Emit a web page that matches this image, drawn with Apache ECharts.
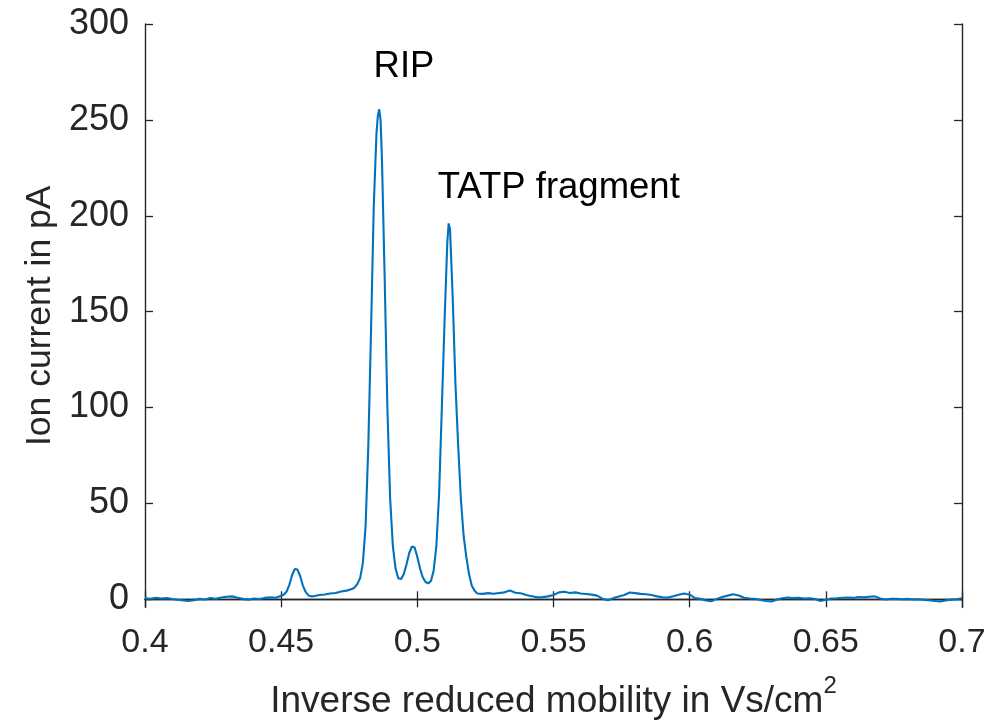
<!DOCTYPE html>
<html>
<head>
<meta charset="utf-8">
<title>Ion mobility spectrum</title>
<script src="https://cdn.jsdelivr.net/npm/echarts@6/dist/echarts.min.js"></script>
<style>
  html, body { margin: 0; padding: 0; background: #ffffff; }
  #chart { width: 1007px; height: 725px; }
</style>
</head>
<body>
<div id="chart"></div>
<script>
// Inverse reduced mobility (Vs/cm^2) of each sample in the spectrum
const mobility = [
  0.400, 0.402, 0.404, 0.406, 0.408, 0.410, 0.412, 0.414, 0.416, 0.418,
  0.420, 0.422, 0.424, 0.426, 0.428, 0.430, 0.432, 0.434, 0.436, 0.438,
  0.440, 0.442, 0.444, 0.446, 0.448, 0.450, 0.451, 0.452, 0.453, 0.454,
  0.455, 0.456, 0.457, 0.458, 0.459, 0.460, 0.461, 0.462, 0.464, 0.466,
  0.468, 0.470, 0.472, 0.474, 0.476, 0.477, 0.478, 0.479, 0.480, 0.481,
  0.482, 0.483, 0.484, 0.485, 0.4855, 0.486, 0.4865, 0.487, 0.488, 0.489,
  0.490, 0.491, 0.492, 0.493, 0.494, 0.495, 0.496, 0.497, 0.498, 0.499,
  0.500, 0.501, 0.502, 0.503, 0.504, 0.505, 0.506, 0.507, 0.508, 0.509,
  0.510, 0.511, 0.5115, 0.512, 0.513, 0.514, 0.515, 0.516, 0.517, 0.518,
  0.519, 0.520, 0.521, 0.522, 0.524, 0.526, 0.528, 0.530, 0.532, 0.534,
  0.536, 0.538, 0.540, 0.542, 0.544, 0.546, 0.548, 0.550, 0.552, 0.554,
  0.556, 0.558, 0.560, 0.562, 0.564, 0.566, 0.568, 0.570, 0.572, 0.574,
  0.576, 0.578, 0.580, 0.582, 0.584, 0.586, 0.588, 0.590, 0.592, 0.594,
  0.596, 0.598, 0.600, 0.602, 0.604, 0.606, 0.608, 0.610, 0.612, 0.614,
  0.616, 0.618, 0.620, 0.622, 0.624, 0.626, 0.628, 0.630, 0.632, 0.634,
  0.636, 0.638, 0.640, 0.642, 0.644, 0.646, 0.648, 0.650, 0.652, 0.654,
  0.656, 0.658, 0.660, 0.662, 0.664, 0.666, 0.668, 0.670, 0.672, 0.674,
  0.676, 0.678, 0.680, 0.682, 0.684, 0.686, 0.688, 0.690, 0.692, 0.694,
  0.696, 0.698, 0.700
];

// Measured ion current (pA) at each mobility value
const current = [
  0.5, 0.3, 0.7, 0.4, 0.6, 0.1, -0.3, -0.6, -0.9, -0.5,
  0.2, -0.1, 0.6, 0.3, 0.9, 1.3, 1.5, 0.8, 0.2, -0.2,
  0.4, 0.1, 0.7, 1.0, 0.8, 1.8, 2.5, 4.0, 7.5, 12.5,
  15.8, 15.5, 12.0, 7.0, 3.8, 2.0, 1.5, 1.6, 2.2, 2.5,
  3.0, 3.3, 4.0, 4.5, 5.3, 6.2, 8.0, 11.0, 19.0, 38.0,
  80.0, 140.0, 205.0, 243.0, 252.0, 255.5, 250.0, 230.0, 168.0, 100.0,
  53.0, 28.0, 16.0, 11.0, 10.5, 13.0, 18.0, 24.0, 27.5, 27.0,
  22.0, 16.0, 11.5, 9.0, 8.3, 9.5, 15.0, 28.0, 55.0, 100.0,
  145.0, 186.0, 196.0, 193.0, 157.0, 112.0, 80.0, 52.0, 33.0, 22.0,
  13.0, 7.0, 4.5, 3.0, 2.8, 3.2, 2.9, 3.3, 3.6, 4.6,
  3.4, 3.1, 2.2, 1.6, 1.0, 1.1, 1.5, 2.2, 3.6, 3.9,
  3.3, 3.6, 3.0, 2.7, 2.4, 1.9, 0.3, -0.5, 0.6, 1.4,
  2.2, 3.5, 3.2, 2.8, 2.6, 2.2, 1.5, 1.0, 0.9, 1.6,
  2.3, 3.0, 2.4, 0.6, 0.2, -0.6, -1.0, 0.2, 1.2, 1.9,
  2.6, 2.0, 0.8, 0.4, 0.3, -0.4, -0.9, -1.2, -0.2, 0.5,
  0.9, 0.6, 0.7, 0.4, 0.5, 0.1, -0.9, -0.3, 0.4, 0.5,
  0.8, 0.9, 0.7, 1.2, 1.0, 1.3, 1.5, 0.4, -0.1, 0.3,
  0.2, 0.0, 0.2, -0.1, 0.0, -0.3, -0.5, -0.9, -1.2, -0.6,
  -0.2, 0.0, 0.5
];

// Axis ticks
const xTicks = [0.4, 0.45, 0.5, 0.55, 0.6, 0.65, 0.7];
const yTicks = [0, 50, 100, 150, 200, 250, 300];

// Peak annotations: text and the [mobility, current] point its anchor sits on
const peakNames = ['RIP', 'TATP fragment'];
const peakAnchors = [[0.4951, 268], [0.5075, 205]];
const peakAligns = ['center', 'left'];

const FONT = '"Liberation Sans", Arial, Helvetica, sans-serif';
const AXIS_COLOR = '#262626';

const chart = echarts.init(document.getElementById('chart'), null, { renderer: 'canvas' });

const baseAxisLine = { show: true, lineStyle: { color: AXIS_COLOR, width: 1.4 } };
const baseTick = { show: true, inside: true, length: 8, lineStyle: { color: AXIS_COLOR, width: 1.3 } };

chart.setOption({
  animation: false,
  backgroundColor: '#ffffff',
  grid: { left: 145, right: 45, top: 24, bottom: 115, containLabel: false },
  xAxis: [
    {
      type: 'value',
      position: 'bottom',
      min: xTicks[0],
      max: xTicks[xTicks.length - 1],
      interval: 0.05,
      name: 'Inverse reduced mobility in Vs/cm{sup|2}',
      nameLocation: 'middle',
      nameGap: 67,
      nameTextStyle: {
        fontFamily: FONT, fontSize: 37, color: AXIS_COLOR,
        rich: { sup: { fontFamily: FONT, fontSize: 24, color: AXIS_COLOR, verticalAlign: 'top', padding: [0, 0, 30, 0] } }
      },
      axisLine: baseAxisLine,
      axisTick: baseTick,
      axisLabel: { fontFamily: FONT, fontSize: 34, color: AXIS_COLOR, margin: 18 },
      splitLine: { show: false }
    },
    {
      type: 'value',
      position: 'top',
      min: xTicks[0],
      max: xTicks[xTicks.length - 1],
      interval: 0.05,
      axisLine: baseAxisLine,
      axisTick: baseTick,
      axisLabel: { show: false },
      splitLine: { show: false }
    }
  ],
  yAxis: [
    {
      type: 'value',
      position: 'left',
      min: -4.3,
      max: yTicks[yTicks.length - 1],
      name: 'Ion current in pA',
      nameLocation: 'middle',
      nameRotate: 90,
      nameGap: 85,
      nameTextStyle: { fontFamily: FONT, fontSize: 35.5, color: AXIS_COLOR },
      axisLine: baseAxisLine,
      axisTick: Object.assign({}, baseTick, { customValues: yTicks }),
      axisLabel: { fontFamily: FONT, fontSize: 36, color: AXIS_COLOR, margin: 16, customValues: yTicks },
      splitLine: { show: false }
    },
    {
      type: 'value',
      position: 'right',
      min: -4.3,
      max: yTicks[yTicks.length - 1],
      axisLine: baseAxisLine,
      axisTick: Object.assign({}, baseTick, { customValues: yTicks }),
      axisLabel: { show: false, customValues: yTicks },
      splitLine: { show: false }
    }
  ],
  series: [
    {
      type: 'line',
      xAxisIndex: 0,
      yAxisIndex: 0,
      data: mobility.map((m, i) => [m, current[i]]),
      showSymbol: false,
      smooth: false,
      lineStyle: { color: '#0072BD', width: 2.1 },
      itemStyle: { color: '#0072BD' },
      z: 3
    }
  ]
});

// Place peak labels in data coordinates
chart.setOption({
  graphic: peakNames.map((txt, i) => {
    const p = chart.convertToPixel({ xAxisIndex: 0, yAxisIndex: 0 }, peakAnchors[i]);
    return {
      type: 'text',
      x: p[0],
      y: p[1],
      style: {
        text: txt,
        fontFamily: FONT,
        fontSize: 36.5,
        fill: '#000000',
        align: peakAligns[i],
        verticalAlign: 'bottom'
      },
      z: 10
    };
  })
});
</script>
</body>
</html>
